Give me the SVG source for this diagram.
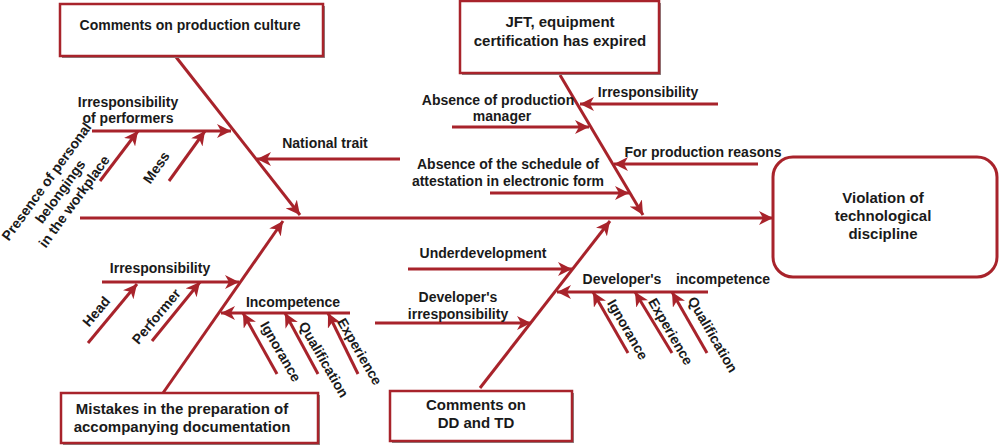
<svg xmlns="http://www.w3.org/2000/svg" width="999" height="447" viewBox="0 0 999 447">
<style>
.ln{stroke:#a8232b;stroke-width:3;fill:none}
.bx{fill:#fff;stroke:#a8232b;stroke-width:2.5}
.sh{fill:#8a8a8a}
.t{font-family:"Liberation Sans",Arial,sans-serif;font-weight:bold;font-size:14px;fill:#1a1a1a;text-anchor:middle}
.tb{font-family:"Liberation Sans",Arial,sans-serif;font-weight:bold;font-size:15px;fill:#1a1a1a;text-anchor:middle}
</style>
<defs>
<marker id="ah" markerUnits="userSpaceOnUse" markerWidth="16" markerHeight="14" refX="14" refY="7" orient="auto">
<path d="M0,0 L14,7 L0,14 L4,7 Z" fill="#a8232b"/>
</marker>
</defs>
<g id="connectors">
<line class="ln" x1="80" y1="218" x2="773" y2="218" marker-end="url(#ah)"/>
<line class="ln" x1="176" y1="57" x2="300" y2="215" marker-end="url(#ah)"/>
<line class="ln" x1="560" y1="75" x2="643" y2="215" marker-end="url(#ah)"/>
<line class="ln" x1="163" y1="393" x2="283" y2="221" marker-end="url(#ah)"/>
<line class="ln" x1="480" y1="388" x2="610" y2="221" marker-end="url(#ah)"/>
<line class="ln" x1="92" y1="131" x2="231" y2="131" marker-end="url(#ah)"/>
<line class="ln" x1="100" y1="181" x2="138" y2="131" marker-end="url(#ah)"/>
<line class="ln" x1="169" y1="181" x2="205" y2="131" marker-end="url(#ah)"/>
<line class="ln" x1="400" y1="159" x2="257" y2="159" marker-end="url(#ah)"/>
<line class="ln" x1="718" y1="104" x2="580" y2="104" marker-end="url(#ah)"/>
<line class="ln" x1="452" y1="127" x2="589" y2="127" marker-end="url(#ah)"/>
<line class="ln" x1="758" y1="164" x2="614" y2="164" marker-end="url(#ah)"/>
<line class="ln" x1="490" y1="193" x2="629" y2="193" marker-end="url(#ah)"/>
<line class="ln" x1="102" y1="282" x2="239" y2="282" marker-end="url(#ah)"/>
<line class="ln" x1="88" y1="343" x2="137" y2="284" marker-end="url(#ah)"/>
<line class="ln" x1="152" y1="341" x2="200" y2="282" marker-end="url(#ah)"/>
<line class="ln" x1="350" y1="313" x2="221" y2="313" marker-end="url(#ah)"/>
<line class="ln" x1="277" y1="374" x2="243" y2="313" marker-end="url(#ah)"/>
<line class="ln" x1="318" y1="374" x2="285" y2="313" marker-end="url(#ah)"/>
<line class="ln" x1="358" y1="374" x2="328" y2="313" marker-end="url(#ah)"/>
<line class="ln" x1="408" y1="269" x2="572" y2="269" marker-end="url(#ah)"/>
<line class="ln" x1="375" y1="323" x2="531" y2="323" marker-end="url(#ah)"/>
<line class="ln" x1="708" y1="292" x2="557" y2="292" marker-end="url(#ah)"/>
<line class="ln" x1="628" y1="353" x2="593" y2="292" marker-end="url(#ah)"/>
<line class="ln" x1="672" y1="353" x2="635" y2="292" marker-end="url(#ah)"/>
<line class="ln" x1="707" y1="353" x2="672" y2="292" marker-end="url(#ah)"/>
</g>
<g id="box-culture">
<rect class="sh" x="62" y="6" width="263" height="52"/>
<rect class="bx" x="60" y="4" width="263" height="52"/>
<text class="t" x="190" y="30">Comments on production culture</text>
</g>
<g id="box-jft">
<rect class="sh" x="462" y="3" width="199" height="72"/>
<rect class="bx" x="460" y="1" width="199" height="72"/>
<text class="tb" x="560" y="27">JFT, equipment</text>
<text class="tb" x="560" y="46">certification has expired</text>
</g>
<g id="box-violation">
<rect class="bx" x="773" y="157" width="224" height="120" rx="20" style="stroke-width:3"/>
<text class="tb" x="883" y="203">Violation of</text>
<text class="tb" x="883" y="221">technological</text>
<text class="tb" x="883" y="239">discipline</text>
</g>
<g id="box-mistakes">
<rect class="sh" x="63" y="395" width="257" height="50"/>
<rect class="bx" x="61" y="393" width="257" height="50"/>
<text class="tb" x="182" y="414">Mistakes in the preparation of</text>
<text class="tb" x="182" y="432">accompanying documentation</text>
</g>
<g id="box-dd">
<rect class="sh" x="392" y="393" width="182" height="50"/>
<rect class="bx" x="390" y="391" width="182" height="50"/>
<text class="tb" x="476" y="410">Comments on</text>
<text class="tb" x="476" y="428">DD and TD</text>
</g>
<g id="labels">
<text class="t" x="128" y="107">Irresponsibility</text>
<text class="t" x="128" y="123">of performers</text>
<text class="t" transform="translate(157,168) rotate(-55)" y="4">Mess</text>
<g transform="translate(61,192) rotate(-54)">
<text class="t" y="-13">Presence of personal</text>
<text class="t" y="4">belongings</text>
<text class="t" y="21">in the workplace</text>
</g>
<text class="t" x="325" y="148">National trait</text>
<text class="t" x="648" y="97">Irresponsibility</text>
<text class="t" x="498" y="105">Absence of production</text>
<text class="t" x="502" y="121">manager</text>
<text class="t" x="703" y="157">For production reasons</text>
<text class="t" x="508" y="169">Absence of the schedule of</text>
<text class="t" x="508" y="186">attestation in electronic form</text>
<text class="t" x="160" y="273">Irresponsibility</text>
<text class="t" transform="translate(97,312) rotate(-50)" y="4">Head</text>
<text class="t" transform="translate(157,317) rotate(-50)" y="4">Performer</text>
<text class="t" x="293" y="307">Incompetence</text>
<text class="t" transform="translate(280,352) rotate(60)" y="4">Ignorance</text>
<text class="t" transform="translate(323,360) rotate(60)" y="4">Qualification</text>
<text class="t" transform="translate(359,352) rotate(60)" y="4">Experience</text>
<text class="t" x="483" y="258">Underdevelopment</text>
<text class="t" x="458" y="302">Developer's</text>
<text class="t" x="458" y="319">irresponsibility</text>
<text class="t" x="622" y="284">Developer's</text>
<text class="t" x="723" y="284">incompetence</text>
<text class="t" transform="translate(627,330) rotate(60)" y="4">Ignorance</text>
<text class="t" transform="translate(670,332) rotate(60)" y="4">Experience</text>
<text class="t" transform="translate(712,335) rotate(60)" y="4">Qualification</text>
</g>
</svg>
